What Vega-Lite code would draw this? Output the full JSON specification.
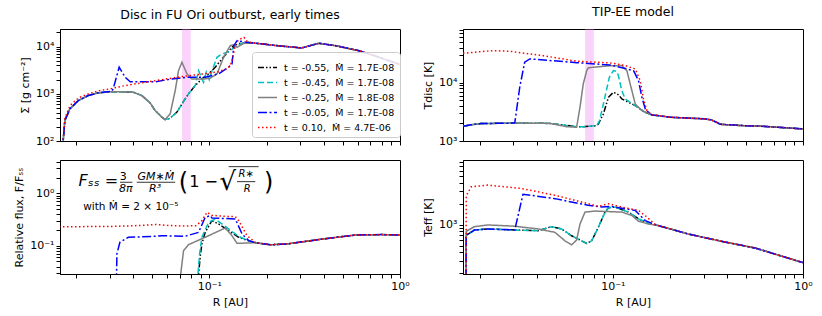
{
"$schema": "https://vega.github.io/schema/vega-lite/v6.json",
"padding": {"left": 13, "top": 5, "right": 10, "bottom": 5},
"config": {
  "font": "DejaVu Sans",
  "view": {"stroke": "black", "strokeWidth": 1},
  "axis": {"grid": false, "domainColor": "black", "tickColor": "black", "labelColor": "black", "titleColor": "black", "labelFontSize": 11, "titleFontSize": 11, "titleFontWeight": "normal", "tickSize": 4, "labelPadding": 2, "titlePadding": 5, "labelOverlap": false, "labelFlush": false, "labelBound": false},
  "title": {"fontSize": 12.5, "fontWeight": "normal", "offset": 5, "color": "black"},
  "line": {"strokeWidth": 1.5, "clip": true}
},
"datasets": {
"sigma": [
{"t":"-0.55","R":0.0170,"v":60},{"t":"-0.55","R":0.01714,"v":100},{"t":"-0.55","R":0.0175,"v":273},{"t":"-0.55","R":0.0186,"v":482},{"t":"-0.55","R":0.0206,"v":722},{"t":"-0.55","R":0.0232,"v":920},{"t":"-0.55","R":0.0262,"v":1050},{"t":"-0.55","R":0.0308,"v":1110},{"t":"-0.55","R":0.0348,"v":1100},{"t":"-0.55","R":0.0400,"v":1080},{"t":"-0.55","R":0.0443,"v":920},{"t":"-0.55","R":0.0490,"v":640},{"t":"-0.55","R":0.0520,"v":443},{"t":"-0.55","R":0.0564,"v":321},{"t":"-0.55","R":0.0587,"v":285},{"t":"-0.55","R":0.0620,"v":300},{"t":"-0.55","R":0.0677,"v":410},{"t":"-0.55","R":0.0733,"v":690},{"t":"-0.55","R":0.0778,"v":1000},{"t":"-0.55","R":0.0844,"v":1496},{"t":"-0.55","R":0.0915,"v":2075},{"t":"-0.55","R":0.0992,"v":2650},{"t":"-0.55","R":0.1075,"v":3664},{"t":"-0.55","R":0.1166,"v":5500},{"t":"-0.55","R":0.1263,"v":8000},{"t":"-0.55","R":0.1340,"v":10500},{"t":"-0.55","R":0.1450,"v":11800},{"t":"-0.55","R":0.1609,"v":12200},{"t":"-0.55","R":0.1700,"v":12000},{"t":"-0.55","R":0.2222,"v":10600},{"t":"-0.55","R":0.3050,"v":9400},{"t":"-0.55","R":0.3752,"v":11800},{"t":"-0.55","R":0.4593,"v":10500},{"t":"-0.55","R":0.6089,"v":8220},{"t":"-0.55","R":0.7757,"v":5960},{"t":"-0.55","R":1.0,"v":4200},
{"t":"-0.45","R":0.0170,"v":60},{"t":"-0.45","R":0.01714,"v":100},{"t":"-0.45","R":0.0175,"v":273},{"t":"-0.45","R":0.0186,"v":482},{"t":"-0.45","R":0.0206,"v":722},{"t":"-0.45","R":0.0232,"v":920},{"t":"-0.45","R":0.0262,"v":1050},{"t":"-0.45","R":0.0308,"v":1110},{"t":"-0.45","R":0.0348,"v":1100},{"t":"-0.45","R":0.0400,"v":1080},{"t":"-0.45","R":0.0443,"v":920},{"t":"-0.45","R":0.0490,"v":640},{"t":"-0.45","R":0.0520,"v":443},{"t":"-0.45","R":0.0564,"v":321},{"t":"-0.45","R":0.0587,"v":285},{"t":"-0.45","R":0.0620,"v":300},{"t":"-0.45","R":0.0677,"v":410},{"t":"-0.45","R":0.0733,"v":690},{"t":"-0.45","R":0.0778,"v":1000},{"t":"-0.45","R":0.0844,"v":1496},{"t":"-0.45","R":0.0879,"v":3100},{"t":"-0.45","R":0.0933,"v":1766},{"t":"-0.45","R":0.0965,"v":2900},{"t":"-0.45","R":0.1000,"v":2000},{"t":"-0.45","R":0.1040,"v":3300},{"t":"-0.45","R":0.1098,"v":5960},{"t":"-0.45","R":0.1166,"v":7000},{"t":"-0.45","R":0.1263,"v":7800},{"t":"-0.45","R":0.1370,"v":10000},{"t":"-0.45","R":0.1500,"v":12000},{"t":"-0.45","R":0.1609,"v":12200},{"t":"-0.45","R":0.1700,"v":12000},{"t":"-0.45","R":0.2222,"v":10600},{"t":"-0.45","R":0.3050,"v":9400},{"t":"-0.45","R":0.3752,"v":11800},{"t":"-0.45","R":0.4593,"v":10500},{"t":"-0.45","R":0.6089,"v":8220},{"t":"-0.45","R":0.7757,"v":5960},{"t":"-0.45","R":1.0,"v":4200},
{"t":"-0.25","R":0.0170,"v":60},{"t":"-0.25","R":0.01714,"v":100},{"t":"-0.25","R":0.0175,"v":273},{"t":"-0.25","R":0.0186,"v":482},{"t":"-0.25","R":0.0206,"v":722},{"t":"-0.25","R":0.0232,"v":920},{"t":"-0.25","R":0.0262,"v":1050},{"t":"-0.25","R":0.0308,"v":1110},{"t":"-0.25","R":0.0348,"v":1100},{"t":"-0.25","R":0.0400,"v":1080},{"t":"-0.25","R":0.0443,"v":920},{"t":"-0.25","R":0.0490,"v":640},{"t":"-0.25","R":0.0520,"v":443},{"t":"-0.25","R":0.0564,"v":321},{"t":"-0.25","R":0.0587,"v":282},{"t":"-0.25","R":0.0624,"v":377},{"t":"-0.25","R":0.0663,"v":1175},{"t":"-0.25","R":0.0690,"v":3100},{"t":"-0.25","R":0.0719,"v":4680},{"t":"-0.25","R":0.0764,"v":2650},{"t":"-0.25","R":0.0811,"v":2075},{"t":"-0.25","R":0.0950,"v":2075},{"t":"-0.25","R":0.1012,"v":2150},{"t":"-0.25","R":0.1098,"v":2650},{"t":"-0.25","R":0.1189,"v":5960},{"t":"-0.25","R":0.1289,"v":10500},{"t":"-0.25","R":0.1340,"v":11000},{"t":"-0.25","R":0.1398,"v":9700},{"t":"-0.25","R":0.1500,"v":11500},{"t":"-0.25","R":0.1609,"v":12200},{"t":"-0.25","R":0.1700,"v":12000},{"t":"-0.25","R":0.2222,"v":10600},{"t":"-0.25","R":0.3050,"v":9400},{"t":"-0.25","R":0.3752,"v":11800},{"t":"-0.25","R":0.4593,"v":10500},{"t":"-0.25","R":0.6089,"v":8220},{"t":"-0.25","R":0.7757,"v":5960},{"t":"-0.25","R":1.0,"v":4200},
{"t":"-0.05","R":0.0170,"v":60},{"t":"-0.05","R":0.01714,"v":100},{"t":"-0.05","R":0.0175,"v":273},{"t":"-0.05","R":0.0186,"v":482},{"t":"-0.05","R":0.0206,"v":722},{"t":"-0.05","R":0.0232,"v":920},{"t":"-0.05","R":0.0262,"v":1050},{"t":"-0.05","R":0.0308,"v":1130},{"t":"-0.05","R":0.0314,"v":1300},{"t":"-0.05","R":0.0337,"v":3664},{"t":"-0.05","R":0.0362,"v":2255},{"t":"-0.05","R":0.0385,"v":1800},{"t":"-0.05","R":0.0520,"v":1800},{"t":"-0.05","R":0.0637,"v":2075},{"t":"-0.05","R":0.0778,"v":2255},{"t":"-0.05","R":0.0952,"v":2255},{"t":"-0.05","R":0.1119,"v":2650},{"t":"-0.05","R":0.1263,"v":3700},{"t":"-0.05","R":0.1316,"v":4300},{"t":"-0.05","R":0.1345,"v":10500},{"t":"-0.05","R":0.1400,"v":13400},{"t":"-0.05","R":0.1500,"v":12800},{"t":"-0.05","R":0.1609,"v":12200},{"t":"-0.05","R":0.1700,"v":12000},{"t":"-0.05","R":0.2222,"v":10600},{"t":"-0.05","R":0.3050,"v":9400},{"t":"-0.05","R":0.3752,"v":11800},{"t":"-0.05","R":0.4593,"v":10500},{"t":"-0.05","R":0.6089,"v":8220},{"t":"-0.05","R":0.7757,"v":5960},{"t":"-0.05","R":1.0,"v":4200},
{"t":"0.10","R":0.0170,"v":60},{"t":"0.10","R":0.01714,"v":100},{"t":"0.10","R":0.0175,"v":300},{"t":"0.10","R":0.0186,"v":560},{"t":"0.10","R":0.0206,"v":820},{"t":"0.10","R":0.0232,"v":1000},{"t":"0.10","R":0.0262,"v":1150},{"t":"0.10","R":0.0308,"v":1300},{"t":"0.10","R":0.0348,"v":1450},{"t":"0.10","R":0.0400,"v":1600},{"t":"0.10","R":0.0520,"v":1900},{"t":"0.10","R":0.0704,"v":2300},{"t":"0.10","R":0.0897,"v":2600},{"t":"0.10","R":0.1098,"v":2900},{"t":"0.10","R":0.1239,"v":3400},{"t":"0.10","R":0.1289,"v":3960},{"t":"0.10","R":0.1330,"v":6000},{"t":"0.10","R":0.1370,"v":11000},{"t":"0.10","R":0.1426,"v":14000},{"t":"0.10","R":0.1520,"v":15800},{"t":"0.10","R":0.1580,"v":13000},{"t":"0.10","R":0.1650,"v":12300},{"t":"0.10","R":0.1700,"v":12000},{"t":"0.10","R":0.2222,"v":10600},{"t":"0.10","R":0.3050,"v":9400},{"t":"0.10","R":0.3752,"v":11800},{"t":"0.10","R":0.4593,"v":10500},{"t":"0.10","R":0.6089,"v":8220},{"t":"0.10","R":0.7757,"v":5960},{"t":"0.10","R":1.0,"v":4200}
],
"tdisc": [
{"t":"-0.55","R":0.0163,"v":1790},{"t":"-0.55","R":0.0180,"v":1900},{"t":"-0.55","R":0.0203,"v":1990},{"t":"-0.55","R":0.0305,"v":2030},{"t":"-0.55","R":0.0466,"v":2000},{"t":"-0.55","R":0.0571,"v":1850},{"t":"-0.55","R":0.0645,"v":1760},{"t":"-0.55","R":0.0699,"v":1750},{"t":"-0.55","R":0.0823,"v":1830},{"t":"-0.55","R":0.0839,"v":1957},{"t":"-0.55","R":0.0892,"v":2904},{"t":"-0.55","R":0.0948,"v":5600},{"t":"-0.55","R":0.1007,"v":6840},{"t":"-0.55","R":0.1071,"v":6200},{"t":"-0.55","R":0.1115,"v":5250},{"t":"-0.55","R":0.1209,"v":4610},{"t":"-0.55","R":0.1312,"v":4030},{"t":"-0.55","R":0.1481,"v":3100},{"t":"-0.55","R":0.1607,"v":2800},{"t":"-0.55","R":0.2008,"v":2550},{"t":"-0.55","R":0.3010,"v":2400},{"t":"-0.55","R":0.3300,"v":2300},{"t":"-0.55","R":0.3688,"v":1930},{"t":"-0.55","R":0.4897,"v":1830},{"t":"-0.55","R":0.5875,"v":1800},{"t":"-0.55","R":0.7354,"v":1720},{"t":"-0.55","R":1.0,"v":1610},
{"t":"-0.45","R":0.0163,"v":1790},{"t":"-0.45","R":0.0180,"v":1900},{"t":"-0.45","R":0.0203,"v":1990},{"t":"-0.45","R":0.0305,"v":2030},{"t":"-0.45","R":0.0466,"v":2000},{"t":"-0.45","R":0.0571,"v":1850},{"t":"-0.45","R":0.0645,"v":1760},{"t":"-0.45","R":0.0699,"v":1750},{"t":"-0.45","R":0.0823,"v":1830},{"t":"-0.45","R":0.0850,"v":2200},{"t":"-0.45","R":0.0892,"v":4310},{"t":"-0.45","R":0.0959,"v":12400},{"t":"-0.45","R":0.1007,"v":16100},{"t":"-0.45","R":0.1050,"v":15500},{"t":"-0.45","R":0.1071,"v":13000},{"t":"-0.45","R":0.1115,"v":7300},{"t":"-0.45","R":0.1161,"v":5250},{"t":"-0.45","R":0.1312,"v":4030},{"t":"-0.45","R":0.1481,"v":3100},{"t":"-0.45","R":0.1607,"v":2800},{"t":"-0.45","R":0.2008,"v":2550},{"t":"-0.45","R":0.3010,"v":2400},{"t":"-0.45","R":0.3300,"v":2300},{"t":"-0.45","R":0.3688,"v":1930},{"t":"-0.45","R":0.4897,"v":1830},{"t":"-0.45","R":0.5875,"v":1800},{"t":"-0.45","R":0.7354,"v":1720},{"t":"-0.45","R":1.0,"v":1610},
{"t":"-0.25","R":0.0163,"v":1790},{"t":"-0.25","R":0.0180,"v":1900},{"t":"-0.25","R":0.0203,"v":1990},{"t":"-0.25","R":0.0305,"v":2030},{"t":"-0.25","R":0.0466,"v":2010},{"t":"-0.25","R":0.0571,"v":1760},{"t":"-0.25","R":0.0645,"v":1718},{"t":"-0.25","R":0.0672,"v":3790},{"t":"-0.25","R":0.0699,"v":9500},{"t":"-0.25","R":0.0729,"v":16100},{"t":"-0.25","R":0.0743,"v":18000},{"t":"-0.25","R":0.0968,"v":19500},{"t":"-0.25","R":0.1115,"v":19600},{"t":"-0.25","R":0.1186,"v":16000},{"t":"-0.25","R":0.1234,"v":9500},{"t":"-0.25","R":0.1312,"v":4310},{"t":"-0.25","R":0.1422,"v":3300},{"t":"-0.25","R":0.1607,"v":2800},{"t":"-0.25","R":0.2008,"v":2550},{"t":"-0.25","R":0.3010,"v":2400},{"t":"-0.25","R":0.3300,"v":2300},{"t":"-0.25","R":0.3688,"v":1930},{"t":"-0.25","R":0.4897,"v":1830},{"t":"-0.25","R":0.5875,"v":1800},{"t":"-0.25","R":0.7354,"v":1720},{"t":"-0.25","R":1.0,"v":1610},
{"t":"-0.05","R":0.0163,"v":1790},{"t":"-0.05","R":0.0180,"v":1900},{"t":"-0.05","R":0.0203,"v":1990},{"t":"-0.05","R":0.0305,"v":2030},{"t":"-0.05","R":0.0324,"v":8330},{"t":"-0.05","R":0.0344,"v":22400},{"t":"-0.05","R":0.0366,"v":25500},{"t":"-0.05","R":0.0645,"v":22000},{"t":"-0.05","R":0.0968,"v":20100},{"t":"-0.05","R":0.1186,"v":17200},{"t":"-0.05","R":0.1285,"v":16000},{"t":"-0.05","R":0.1365,"v":10800},{"t":"-0.05","R":0.1422,"v":5600},{"t":"-0.05","R":0.1481,"v":3540},{"t":"-0.05","R":0.1574,"v":2900},{"t":"-0.05","R":0.1607,"v":2800},{"t":"-0.05","R":0.2008,"v":2550},{"t":"-0.05","R":0.3010,"v":2400},{"t":"-0.05","R":0.3300,"v":2300},{"t":"-0.05","R":0.3688,"v":1930},{"t":"-0.05","R":0.4897,"v":1830},{"t":"-0.05","R":0.5875,"v":1800},{"t":"-0.05","R":0.7354,"v":1720},{"t":"-0.05","R":1.0,"v":1610},
{"t":"0.10","R":0.0163,"v":31900},{"t":"0.10","R":0.0234,"v":35400},{"t":"0.10","R":0.0287,"v":34500},{"t":"0.10","R":0.0430,"v":29000},{"t":"0.10","R":0.0645,"v":23300},{"t":"0.10","R":0.0968,"v":21800},{"t":"0.10","R":0.1161,"v":19600},{"t":"0.10","R":0.1312,"v":17100},{"t":"0.10","R":0.1393,"v":10800},{"t":"0.10","R":0.1450,"v":5250},{"t":"0.10","R":0.1512,"v":3300},{"t":"0.10","R":0.1607,"v":2830},{"t":"0.10","R":0.2008,"v":2550},{"t":"0.10","R":0.3010,"v":2400},{"t":"0.10","R":0.3300,"v":2300},{"t":"0.10","R":0.3688,"v":1930},{"t":"0.10","R":0.4897,"v":1830},{"t":"0.10","R":0.5875,"v":1800},{"t":"0.10","R":0.7354,"v":1720},{"t":"0.10","R":1.0,"v":1610}
],
"flux": [
{"t":"-0.55","R":0.0870,"v":0.02},{"t":"-0.55","R":0.0900,"v":0.07},{"t":"-0.55","R":0.0915,"v":0.108},{"t":"-0.55","R":0.0952,"v":0.180},{"t":"-0.55","R":0.1033,"v":0.301},{"t":"-0.55","R":0.1119,"v":0.260},{"t":"-0.55","R":0.1263,"v":0.194},{"t":"-0.55","R":0.1426,"v":0.145},{"t":"-0.55","R":0.1609,"v":0.124},{"t":"-0.55","R":0.1744,"v":0.114},{"t":"-0.55","R":0.2100,"v":0.104},{"t":"-0.55","R":0.2610,"v":0.109},{"t":"-0.55","R":0.3910,"v":0.134},{"t":"-0.55","R":0.5850,"v":0.160},{"t":"-0.55","R":0.8000,"v":0.163},{"t":"-0.55","R":1.0,"v":0.160},
{"t":"-0.45","R":0.0865,"v":0.02},{"t":"-0.45","R":0.0890,"v":0.07},{"t":"-0.45","R":0.0915,"v":0.145},{"t":"-0.45","R":0.0992,"v":0.280},{"t":"-0.45","R":0.1075,"v":0.322},{"t":"-0.45","R":0.1263,"v":0.210},{"t":"-0.45","R":0.1426,"v":0.150},{"t":"-0.45","R":0.1609,"v":0.124},{"t":"-0.45","R":0.1744,"v":0.114},{"t":"-0.45","R":0.2100,"v":0.104},{"t":"-0.45","R":0.2610,"v":0.109},{"t":"-0.45","R":0.3910,"v":0.134},{"t":"-0.45","R":0.5850,"v":0.160},{"t":"-0.45","R":0.8000,"v":0.163},{"t":"-0.45","R":1.0,"v":0.160},
{"t":"-0.25","R":0.0700,"v":0.02},{"t":"-0.25","R":0.0733,"v":0.080},{"t":"-0.25","R":0.0778,"v":0.1045},{"t":"-0.25","R":0.0952,"v":0.145},{"t":"-0.25","R":0.1214,"v":0.218},{"t":"-0.25","R":0.1316,"v":0.155},{"t":"-0.25","R":0.1398,"v":0.111},{"t":"-0.25","R":0.1500,"v":0.112},{"t":"-0.25","R":0.1744,"v":0.114},{"t":"-0.25","R":0.2100,"v":0.104},{"t":"-0.25","R":0.2610,"v":0.109},{"t":"-0.25","R":0.3910,"v":0.134},{"t":"-0.25","R":0.5850,"v":0.160},{"t":"-0.25","R":0.8000,"v":0.163},{"t":"-0.25","R":1.0,"v":0.160},
{"t":"-0.05","R":0.0326,"v":0.02},{"t":"-0.05","R":0.0328,"v":0.07},{"t":"-0.05","R":0.0340,"v":0.116},{"t":"-0.05","R":0.0377,"v":0.145},{"t":"-0.05","R":0.0500,"v":0.150},{"t":"-0.05","R":0.0564,"v":0.155},{"t":"-0.05","R":0.0750,"v":0.152},{"t":"-0.05","R":0.0879,"v":0.180},{"t":"-0.05","R":0.0952,"v":0.349},{"t":"-0.05","R":0.1012,"v":0.375},{"t":"-0.05","R":0.1033,"v":0.339},{"t":"-0.05","R":0.1370,"v":0.324},{"t":"-0.05","R":0.1485,"v":0.168},{"t":"-0.05","R":0.1609,"v":0.125},{"t":"-0.05","R":0.1744,"v":0.114},{"t":"-0.05","R":0.2100,"v":0.104},{"t":"-0.05","R":0.2610,"v":0.109},{"t":"-0.05","R":0.3910,"v":0.134},{"t":"-0.05","R":0.5850,"v":0.160},{"t":"-0.05","R":0.8000,"v":0.163},{"t":"-0.05","R":1.0,"v":0.160},
{"t":"0.10","R":0.0163,"v":0.231},{"t":"0.10","R":0.0300,"v":0.232},{"t":"0.10","R":0.0450,"v":0.245},{"t":"0.10","R":0.0520,"v":0.255},{"t":"0.10","R":0.0600,"v":0.245},{"t":"0.10","R":0.0719,"v":0.238},{"t":"0.10","R":0.0850,"v":0.240},{"t":"0.10","R":0.0915,"v":0.301},{"t":"0.10","R":0.0973,"v":0.435},{"t":"0.10","R":0.1033,"v":0.380},{"t":"0.10","R":0.1200,"v":0.365},{"t":"0.10","R":0.1370,"v":0.359},{"t":"0.10","R":0.1426,"v":0.301},{"t":"0.10","R":0.1578,"v":0.155},{"t":"0.10","R":0.1744,"v":0.116},{"t":"0.10","R":0.2100,"v":0.104},{"t":"0.10","R":0.2610,"v":0.109},{"t":"0.10","R":0.3910,"v":0.134},{"t":"0.10","R":0.5850,"v":0.160},{"t":"0.10","R":0.8000,"v":0.163},{"t":"0.10","R":1.0,"v":0.160}
],
"teff": [
{"t":"-0.55","R":0.01690,"v":100},{"t":"-0.55","R":0.01695,"v":700},{"t":"-0.55","R":0.0187,"v":837},{"t":"-0.55","R":0.0220,"v":866},{"t":"-0.55","R":0.0305,"v":837},{"t":"-0.55","R":0.0405,"v":818},{"t":"-0.55","R":0.0476,"v":935},{"t":"-0.55","R":0.0538,"v":866},{"t":"-0.55","R":0.0607,"v":692},{"t":"-0.55","R":0.0729,"v":536},{"t":"-0.55","R":0.0774,"v":585},{"t":"-0.55","R":0.0839,"v":917},{"t":"-0.55","R":0.0911,"v":1515},{"t":"-0.55","R":0.0948,"v":1750},{"t":"-0.55","R":0.1028,"v":1790},{"t":"-0.55","R":0.1209,"v":1515},{"t":"-0.55","R":0.1365,"v":1210},{"t":"-0.55","R":0.1542,"v":1047},{"t":"-0.55","R":0.1741,"v":967},{"t":"-0.55","R":0.2507,"v":730},{"t":"-0.55","R":0.3765,"v":573},{"t":"-0.55","R":0.5646,"v":458},{"t":"-0.55","R":1.0,"v":284},
{"t":"-0.45","R":0.01690,"v":100},{"t":"-0.45","R":0.01695,"v":700},{"t":"-0.45","R":0.0187,"v":837},{"t":"-0.45","R":0.0220,"v":866},{"t":"-0.45","R":0.0305,"v":837},{"t":"-0.45","R":0.0405,"v":818},{"t":"-0.45","R":0.0476,"v":935},{"t":"-0.45","R":0.0538,"v":866},{"t":"-0.45","R":0.0607,"v":692},{"t":"-0.45","R":0.0729,"v":536},{"t":"-0.45","R":0.0774,"v":585},{"t":"-0.45","R":0.0839,"v":917},{"t":"-0.45","R":0.0911,"v":1515},{"t":"-0.45","R":0.0948,"v":1750},{"t":"-0.45","R":0.1028,"v":1790},{"t":"-0.45","R":0.1209,"v":1515},{"t":"-0.45","R":0.1365,"v":1210},{"t":"-0.45","R":0.1542,"v":1047},{"t":"-0.45","R":0.1741,"v":967},{"t":"-0.45","R":0.2507,"v":730},{"t":"-0.45","R":0.3765,"v":573},{"t":"-0.45","R":0.5646,"v":458},{"t":"-0.45","R":1.0,"v":284},
{"t":"-0.25","R":0.01690,"v":100},{"t":"-0.25","R":0.01695,"v":800},{"t":"-0.25","R":0.0187,"v":935},{"t":"-0.25","R":0.0220,"v":990},{"t":"-0.25","R":0.0305,"v":950},{"t":"-0.25","R":0.0405,"v":866},{"t":"-0.25","R":0.0496,"v":775},{"t":"-0.25","R":0.0560,"v":585},{"t":"-0.25","R":0.0607,"v":512},{"t":"-0.25","R":0.0645,"v":600},{"t":"-0.25","R":0.0672,"v":1020},{"t":"-0.25","R":0.0714,"v":1515},{"t":"-0.25","R":0.0806,"v":1567},{"t":"-0.25","R":0.1115,"v":1515},{"t":"-0.25","R":0.1260,"v":1352},{"t":"-0.25","R":0.1365,"v":1120},{"t":"-0.25","R":0.1542,"v":1020},{"t":"-0.25","R":0.1741,"v":967},{"t":"-0.25","R":0.2507,"v":730},{"t":"-0.25","R":0.3765,"v":573},{"t":"-0.25","R":0.5646,"v":458},{"t":"-0.25","R":1.0,"v":284},
{"t":"-0.05","R":0.01690,"v":100},{"t":"-0.05","R":0.01695,"v":700},{"t":"-0.05","R":0.0187,"v":837},{"t":"-0.05","R":0.0220,"v":866},{"t":"-0.05","R":0.0305,"v":837},{"t":"-0.05","R":0.0337,"v":2734},{"t":"-0.05","R":0.0496,"v":2365},{"t":"-0.05","R":0.0743,"v":1893},{"t":"-0.05","R":0.0875,"v":1790},{"t":"-0.05","R":0.0988,"v":1827},{"t":"-0.05","R":0.1312,"v":1600},{"t":"-0.05","R":0.1481,"v":1143},{"t":"-0.05","R":0.1673,"v":1000},{"t":"-0.05","R":0.1741,"v":967},{"t":"-0.05","R":0.2507,"v":730},{"t":"-0.05","R":0.3765,"v":573},{"t":"-0.05","R":0.5646,"v":458},{"t":"-0.05","R":1.0,"v":284},
{"t":"0.10","R":0.01690,"v":100},{"t":"0.10","R":0.01695,"v":2600},{"t":"0.10","R":0.0180,"v":3500},{"t":"0.10","R":0.0220,"v":3700},{"t":"0.10","R":0.0331,"v":3310},{"t":"0.10","R":0.0496,"v":2645},{"t":"0.10","R":0.0743,"v":2000},{"t":"0.10","R":0.0839,"v":1827},{"t":"0.10","R":0.0948,"v":2000},{"t":"0.10","R":0.1115,"v":1790},{"t":"0.10","R":0.1365,"v":1600},{"t":"0.10","R":0.1512,"v":1282},{"t":"0.10","R":0.1673,"v":1000},{"t":"0.10","R":0.1741,"v":967},{"t":"0.10","R":0.2507,"v":730},{"t":"0.10","R":0.3765,"v":573},{"t":"0.10","R":0.5646,"v":458},{"t":"0.10","R":1.0,"v":284}
]
},
"resolve": {"scale": {"color": "independent", "strokeDash": "independent"}},
"bounds": "flush",
"columns": 2,
"spacing": {"row": 19, "column": 63},
"concat": [
{
 "width": 340, "height": 112,
 "title": "Disc in FU Ori outburst, early times",
 "layer": [
  {"data": {"values": [{}]}, "mark": {"type": "rect", "color": "#ee82ee", "opacity": 0.35},
   "encoding": {"x": {"datum": 0.072, "type": "quantitative", "scale": {"type": "log", "domain": [0.0165, 1], "nice": false}}, "x2": {"datum": 0.080}}},
  {"data": {"name": "sigma"},
   "mark": {"type": "line", "clip": true},
   "encoding": {
    "x": {"field": "R", "type": "quantitative", "scale": {"type": "log", "domain": [0.0165, 1], "nice": false},
          "axis": {"values": [0.02,0.03,0.04,0.05,0.06,0.07,0.08,0.09,0.1,0.2,0.3,0.4,0.5,0.6,0.7,0.8,0.9,1], "labels": false, "title": null}},
    "y": {"field": "v", "type": "quantitative", "scale": {"type": "log", "domain": [100, 23700], "nice": false},
          "axis": {"values": [100,200,300,400,500,600,700,800,900,1000,2000,3000,4000,5000,6000,7000,8000,9000,10000,20000], "labelExpr": "datum.value == 100 ? '10²' : datum.value == 1000 ? '10³' : datum.value == 10000 ? '10⁴' : ''", "title": "Σ [g cm⁻²]"}},
    "color": {"field": "t", "type": "nominal", "scale": {"domain": ["-0.55","-0.45","-0.25","-0.05","0.10"], "range": ["#000000","#00bfbf","#808080","#0000ff","#ff0000"]},
      "legend": {"title": null, "orient": "none", "legendX": 192, "legendY": 23, "fillColor": "rgba(255,255,255,0.85)", "strokeColor": "#cccccc", "cornerRadius": 3, "padding": 5, "labelFontSize": 9.5, "labelLimit": 300, "symbolType": "stroke", "symbolSize": 361, "symbolStrokeWidth": 1.5, "rowPadding": -3, "labelOffset": 6,
        "labelExpr": "'t = ' + datum.label + ',\u00a0\u00a0Ṁ = ' + (datum.label == '0.10' ? '4.7E-06' : datum.label == '-0.25' ? '1.8E-08' : '1.7E-08')"}},
    "strokeDash": {"field": "t", "type": "nominal", "scale": {"domain": ["-0.55","-0.45","-0.25","-0.05","0.10"], "range": [[6,2,1.5,2,1.5,2],[6,3],[1,0],[9,2.5,2,2.5],[1.5,2.5]]},
      "legend": {"title": null, "orient": "none", "legendX": 192, "legendY": 23, "fillColor": "rgba(255,255,255,0.85)", "strokeColor": "#cccccc", "cornerRadius": 3, "padding": 5, "labelFontSize": 9.5, "labelLimit": 300, "symbolType": "stroke", "symbolSize": 361, "symbolStrokeWidth": 1.5, "rowPadding": -3, "labelOffset": 6,
        "labelExpr": "'t = ' + datum.label + ',\u00a0\u00a0Ṁ = ' + (datum.label == '0.10' ? '4.7E-06' : datum.label == '-0.25' ? '1.8E-08' : '1.7E-08')"}}
   }}
 ]
},
{
 "width": 340, "height": 112,
 "title": "TIP-EE model",
 "layer": [
  {"data": {"values": [{}]}, "mark": {"type": "rect", "color": "#ee82ee", "opacity": 0.35},
   "encoding": {"x": {"datum": 0.0715, "type": "quantitative", "scale": {"type": "log", "domain": [0.0163, 1], "nice": false}}, "x2": {"datum": 0.0795}}},
  {"data": {"name": "tdisc"},
   "mark": {"type": "line", "clip": true},
   "encoding": {
    "x": {"field": "R", "type": "quantitative", "scale": {"type": "log", "domain": [0.0163, 1], "nice": false},
          "axis": {"values": [0.02,0.03,0.04,0.05,0.06,0.07,0.08,0.09,0.1,0.2,0.3,0.4,0.5,0.6,0.7,0.8,0.9,1], "labels": false, "title": null}},
    "y": {"field": "v", "type": "quantitative", "scale": {"type": "log", "domain": [1000, 83000], "nice": false},
          "axis": {"values": [1000,2000,3000,4000,5000,6000,7000,8000,9000,10000,20000,30000,40000,50000,60000,70000,80000], "labelExpr": "datum.value == 1000 ? '10³' : datum.value == 10000 ? '10⁴' : ''", "title": "Tdisc  [K]"}},
    "color": {"field": "t", "type": "nominal", "scale": {"domain": ["-0.55","-0.45","-0.25","-0.05","0.10"], "range": ["#000000","#00bfbf","#808080","#0000ff","#ff0000"]}, "legend": null},
    "strokeDash": {"field": "t", "type": "nominal", "scale": {"domain": ["-0.55","-0.45","-0.25","-0.05","0.10"], "range": [[6,2,1.5,2,1.5,2],[6,3],[1,0],[9,2.5,2,2.5],[1.5,2.5]]}, "legend": null}
   }}
 ]
},
{
 "width": 340, "height": 114,
 "layer": [
  {"data": {"name": "flux"},
   "mark": {"type": "line", "clip": true},
   "encoding": {
    "x": {"field": "R", "type": "quantitative", "scale": {"type": "log", "domain": [0.0165, 1], "nice": false},
          "axis": {"values": [0.02,0.03,0.04,0.05,0.06,0.07,0.08,0.09,0.1,0.2,0.3,0.4,0.5,0.6,0.7,0.8,0.9,1], "labelExpr": "datum.value == 0.1 ? '10⁻¹' : datum.value == 1 ? '10⁰' : ''", "title": "R [AU]"}},
    "y": {"field": "v", "type": "quantitative", "scale": {"type": "log", "domain": [0.0288, 4.34], "nice": false},
          "axis": {"values": [0.03,0.04,0.05,0.06,0.07,0.08,0.09,0.1,0.2,0.3,0.4,0.5,0.6,0.7,0.8,0.9,1,2,3,4], "labelExpr": "datum.value == 0.1 ? '10⁻¹' : datum.value == 1 ? '10⁰' : ''", "title": "Relative flux, F/Fₛₛ"}},
    "color": {"field": "t", "type": "nominal", "scale": {"domain": ["-0.55","-0.45","-0.25","-0.05","0.10"], "range": ["#000000","#00bfbf","#808080","#0000ff","#ff0000"]}, "legend": null},
    "strokeDash": {"field": "t", "type": "nominal", "scale": {"domain": ["-0.55","-0.45","-0.25","-0.05","0.10"], "range": [[6,2,1.5,2,1.5,2],[6,3],[1,0],[9,2.5,2,2.5],[1.5,2.5]]}, "legend": null}
   }},
  {"data": {"values": [{}]}, "mark": {"type": "text", "fontSize": 16, "fontStyle": "italic", "align": "center", "baseline": "middle"}, "encoding": {"x": {"datum": 0.0262, "type": "quantitative"}, "y": {"datum": 1.749, "type": "quantitative"}, "text": {"value": "Fₛₛ ="}}},
  {"data": {"values": [{}]}, "mark": {"type": "text", "fontSize": 11, "align": "center", "baseline": "middle"}, "encoding": {"x": {"datum": 0.03546, "type": "quantitative"}, "y": {"datum": 2.086, "type": "quantitative"}, "text": {"value": "3"}}},
  {"data": {"values": [{}]}, "mark": {"type": "text", "fontSize": 11, "fontStyle": "italic", "align": "center", "baseline": "middle"}, "encoding": {"x": {"datum": 0.03651, "type": "quantitative"}, "y": {"datum": 1.214, "type": "quantitative"}, "text": {"value": "8π"}}},
  {"data": {"values": [{}]}, "mark": {"type": "rule", "color": "black", "strokeWidth": 0.8}, "encoding": {"x": {"datum": 0.03405, "type": "quantitative"}, "x2": {"datum": 0.03953}, "y": {"datum": 1.63, "type": "quantitative"}}},
  {"data": {"values": [{}]}, "mark": {"type": "text", "fontSize": 11, "fontStyle": "italic", "align": "center", "baseline": "middle"}, "encoding": {"x": {"datum": 0.05248, "type": "quantitative"}, "y": {"datum": 2.086, "type": "quantitative"}, "text": {"value": "GM∗Ṁ"}}},
  {"data": {"values": [{}]}, "mark": {"type": "text", "fontSize": 11, "fontStyle": "italic", "align": "center", "baseline": "middle"}, "encoding": {"x": {"datum": 0.05203, "type": "quantitative"}, "y": {"datum": 1.214, "type": "quantitative"}, "text": {"value": "R³"}}},
  {"data": {"values": [{}]}, "mark": {"type": "rule", "color": "black", "strokeWidth": 0.8}, "encoding": {"x": {"datum": 0.0417, "type": "quantitative"}, "x2": {"datum": 0.06628}, "y": {"datum": 1.63, "type": "quantitative"}}},
  {"data": {"values": [{}]}, "mark": {"type": "text", "fontSize": 24, "align": "center", "baseline": "middle"}, "encoding": {"x": {"datum": 0.07326, "type": "quantitative"}, "y": {"datum": 1.55, "type": "quantitative"}, "text": {"value": "("}}},
  {"data": {"values": [{}]}, "mark": {"type": "text", "fontSize": 16, "align": "center", "baseline": "middle"}, "encoding": {"x": {"datum": 0.09333, "type": "quantitative"}, "y": {"datum": 1.652, "type": "quantitative"}, "text": {"value": "1 −"}}},
  {"data": {"values": [{}]}, "mark": {"type": "text", "fontSize": 26, "align": "center", "baseline": "middle"}, "encoding": {"x": {"datum": 0.1251, "type": "quantitative"}, "y": {"datum": 1.62, "type": "quantitative"}, "text": {"value": "√"}}},
  {"data": {"values": [{}]}, "mark": {"type": "rule", "color": "black", "strokeWidth": 0.8}, "encoding": {"x": {"datum": 0.1263, "type": "quantitative"}, "x2": {"datum": 0.1815}, "y": {"datum": 3.239, "type": "quantitative"}}},
  {"data": {"values": [{}]}, "mark": {"type": "text", "fontSize": 10, "fontStyle": "italic", "align": "center", "baseline": "middle"}, "encoding": {"x": {"datum": 0.1559, "type": "quantitative"}, "y": {"datum": 2.35, "type": "quantitative"}, "text": {"value": "R∗"}}},
  {"data": {"values": [{}]}, "mark": {"type": "text", "fontSize": 10, "fontStyle": "italic", "align": "center", "baseline": "middle"}, "encoding": {"x": {"datum": 0.1579, "type": "quantitative"}, "y": {"datum": 1.214, "type": "quantitative"}, "text": {"value": "R"}}},
  {"data": {"values": [{}]}, "mark": {"type": "rule", "color": "black", "strokeWidth": 0.8}, "encoding": {"x": {"datum": 0.1398, "type": "quantitative"}, "x2": {"datum": 0.1744}, "y": {"datum": 1.674, "type": "quantitative"}}},
  {"data": {"values": [{}]}, "mark": {"type": "text", "fontSize": 24, "align": "center", "baseline": "middle"}, "encoding": {"x": {"datum": 0.2049, "type": "quantitative"}, "y": {"datum": 1.55, "type": "quantitative"}, "text": {"value": ")"}}},
  {"data": {"values": [{}]}, "mark": {"type": "text", "fontSize": 10.5, "align": "center", "baseline": "middle"}, "encoding": {"x": {"datum": 0.03882, "type": "quantitative"}, "y": {"datum": 0.5424, "type": "quantitative"}, "text": {"value": "with Ṁ = 2 × 10⁻⁵"}}}
 ]
},
{
 "width": 340, "height": 114,
 "layer": [
  {"data": {"name": "teff"},
   "mark": {"type": "line", "clip": true},
   "encoding": {
    "x": {"field": "R", "type": "quantitative", "scale": {"type": "log", "domain": [0.0163, 1], "nice": false},
          "axis": {"values": [0.02,0.03,0.04,0.05,0.06,0.07,0.08,0.09,0.1,0.2,0.3,0.4,0.5,0.6,0.7,0.8,0.9,1], "labelExpr": "datum.value == 0.1 ? '10⁻¹' : datum.value == 1 ? '10⁰' : ''", "title": "R [AU]"}},
    "y": {"field": "v", "type": "quantitative", "scale": {"type": "log", "domain": [195, 8500], "nice": false},
          "axis": {"values": [200,300,400,500,600,700,800,900,1000,2000,3000,4000,5000,6000,7000,8000], "labelExpr": "datum.value == 1000 ? '10³' : ''", "title": "Teff  [K]"}},
    "color": {"field": "t", "type": "nominal", "scale": {"domain": ["-0.55","-0.45","-0.25","-0.05","0.10"], "range": ["#000000","#00bfbf","#808080","#0000ff","#ff0000"]}, "legend": null},
    "strokeDash": {"field": "t", "type": "nominal", "scale": {"domain": ["-0.55","-0.45","-0.25","-0.05","0.10"], "range": [[6,2,1.5,2,1.5,2],[6,3],[1,0],[9,2.5,2,2.5],[1.5,2.5]]}, "legend": null}
   }}
 ]
}
]
}
